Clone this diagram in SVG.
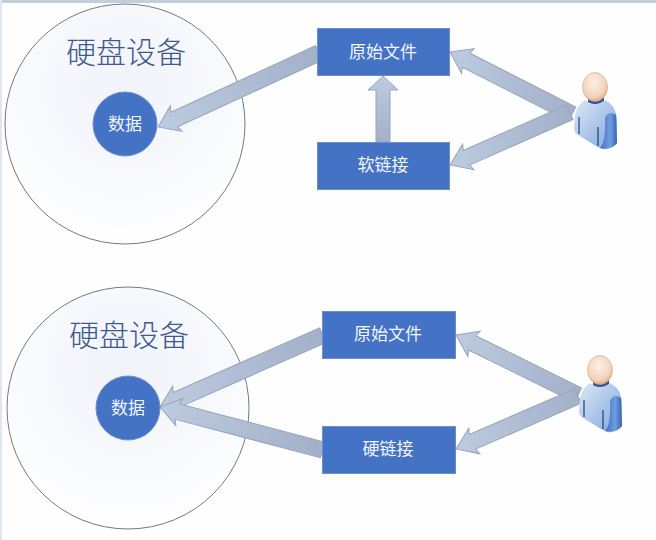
<svg xmlns="http://www.w3.org/2000/svg" width="656" height="540" viewBox="0 0 656 540">
<style>
text{font-family:"Noto Sans CJK SC","Noto Sans",sans-serif;text-anchor:middle;dominant-baseline:central}
.box{fill:#4472c4;stroke:#6f8fcc;stroke-width:1}
.lbl{fill:#f2f5fb;font-size:17px}
.disk{fill:url(#disk);stroke:#77797f;stroke-width:1}
.title{fill:#3d5a8e;font-size:30px;font-weight:300}
.arrow{fill:url(#arr);stroke:#97a5bb;stroke-width:1}
</style>
<defs>
<radialGradient id="disk" cx="0.5" cy="0.35" r="0.65"><stop offset="0" stop-color="#f0f3fa"/><stop offset="0.7" stop-color="#f9fafd"/><stop offset="1" stop-color="#ffffff"/></radialGradient>
<linearGradient id="arr" x1="0" y1="0" x2="1" y2="0"><stop offset="0" stop-color="#bccbe0"/><stop offset="1" stop-color="#a3b1c8"/></linearGradient>
<radialGradient id="head" cx="0.45" cy="0.35" r="0.7"><stop offset="0" stop-color="#fdf1e8"/><stop offset="0.7" stop-color="#f3d2ba"/><stop offset="1" stop-color="#d99d72"/></radialGradient>
<linearGradient id="body" x1="0" y1="0" x2="1" y2="1"><stop offset="0" stop-color="#dbe8f6"/><stop offset="1" stop-color="#7ea6dc"/></linearGradient>
<linearGradient id="pack" x1="0" y1="0" x2="1" y2="0"><stop offset="0" stop-color="#3f6cc0"/><stop offset="0.6" stop-color="#6f9fe0"/><stop offset="1" stop-color="#3a62ad"/></linearGradient>
<g id="person">
<path d="M588 97Q596 104 604 97L604 107L588 107Z" fill="#2f5597"/>
<path d="M585 100Q595 108 605 100Q617 106 617 122L617 143Q612 150 602 149L596 146L578 135Q574 133 574 128L575 115Q577 105 585 100Z" fill="url(#body)"/>
<path d="M605 118Q609 110 616 115L617 143Q612 150 600 148Q606 142 605 118Z" fill="url(#pack)"/>
<path d="M579 117V134M598 127V146" stroke="#1f3f7a" stroke-width="1.2" fill="none"/>
<ellipse cx="595" cy="87" rx="12.500" ry="14.500" fill="url(#head)" stroke="#c9a68c" stroke-width="0.6"/>
</g>
</defs>
<rect width="656" height="540" fill="#fefefe"/>
<rect width="656" height="3" fill="#c3cedb"/>
<rect width="2" height="540" fill="#dfe6ef"/>
<g id="disk1"><circle class="disk" cx="125" cy="124" r="120"/><text class="title" x="126" y="50">硬盘设备</text></g>
<g id="disk2"><circle class="disk" cx="128" cy="408" r="121"/><text class="title" x="129" y="332.500">硬盘设备</text></g>
<g id="connectors">
<path class="arrow" transform="translate(158,127) rotate(-24.7)" d="M0 0L20 -14L18 -8L177 -8L177 8L18 8L20 14Z"/>
<path class="arrow" transform="translate(383,76) rotate(90)" d="M0 0L14 -15L14 -7L66 -7L66 7L14 7L14 15Z"/>
<path class="arrow" transform="translate(450,52) rotate(27)" d="M0 0L20 -14L18 -8L137 -8L137 8L18 8L20 14Z"/>
<path class="arrow" transform="translate(450,165) rotate(-23.8)" d="M0 0L20 -14L18 -8L131 -8L131 8L18 8L20 14Z"/>
<path class="arrow" transform="translate(160,407) rotate(-23.8)" d="M0 0L20 -14L18 -8L178 -8L178 8L18 8L20 14Z"/>
<path class="arrow" transform="translate(160,407) rotate(14.8)" d="M0 0L20 -14L18 -8L168 -8L168 8L18 8L20 14Z"/>
<path class="arrow" transform="translate(456,335) rotate(26.2)" d="M0 0L20 -14L18 -8L136 -8L136 8L18 8L20 14Z"/>
<path class="arrow" transform="translate(456,449) rotate(-23.5)" d="M0 0L20 -14L18 -8L133 -8L133 8L18 8L20 14Z"/>
</g>
<g id="data1"><circle class="box" cx="125" cy="124" r="32"/><text class="lbl" x="125" y="122.500">数据</text></g>
<g id="data2"><circle class="box" cx="128" cy="408" r="32"/><text class="lbl" x="128" y="406.500">数据</text></g>
<g id="orig1"><rect class="box" x="317.500" y="28.500" width="132" height="47"/><text class="lbl" x="383" y="50.500">原始文件</text></g>
<g id="soft"><rect class="box" x="317.500" y="142.500" width="132" height="47"/><text class="lbl" x="383" y="163.500">软链接</text></g>
<g id="orig2"><rect class="box" x="322.500" y="311.500" width="133" height="47"/><text class="lbl" x="388" y="332.500">原始文件</text></g>
<g id="hard"><rect class="box" x="322.500" y="426.500" width="133" height="47"/><text class="lbl" x="388" y="447.500">硬链接</text></g>
<g id="user1"><use href="#person"/></g>
<g id="user2"><use href="#person" x="5" y="283"/></g>
</svg>
